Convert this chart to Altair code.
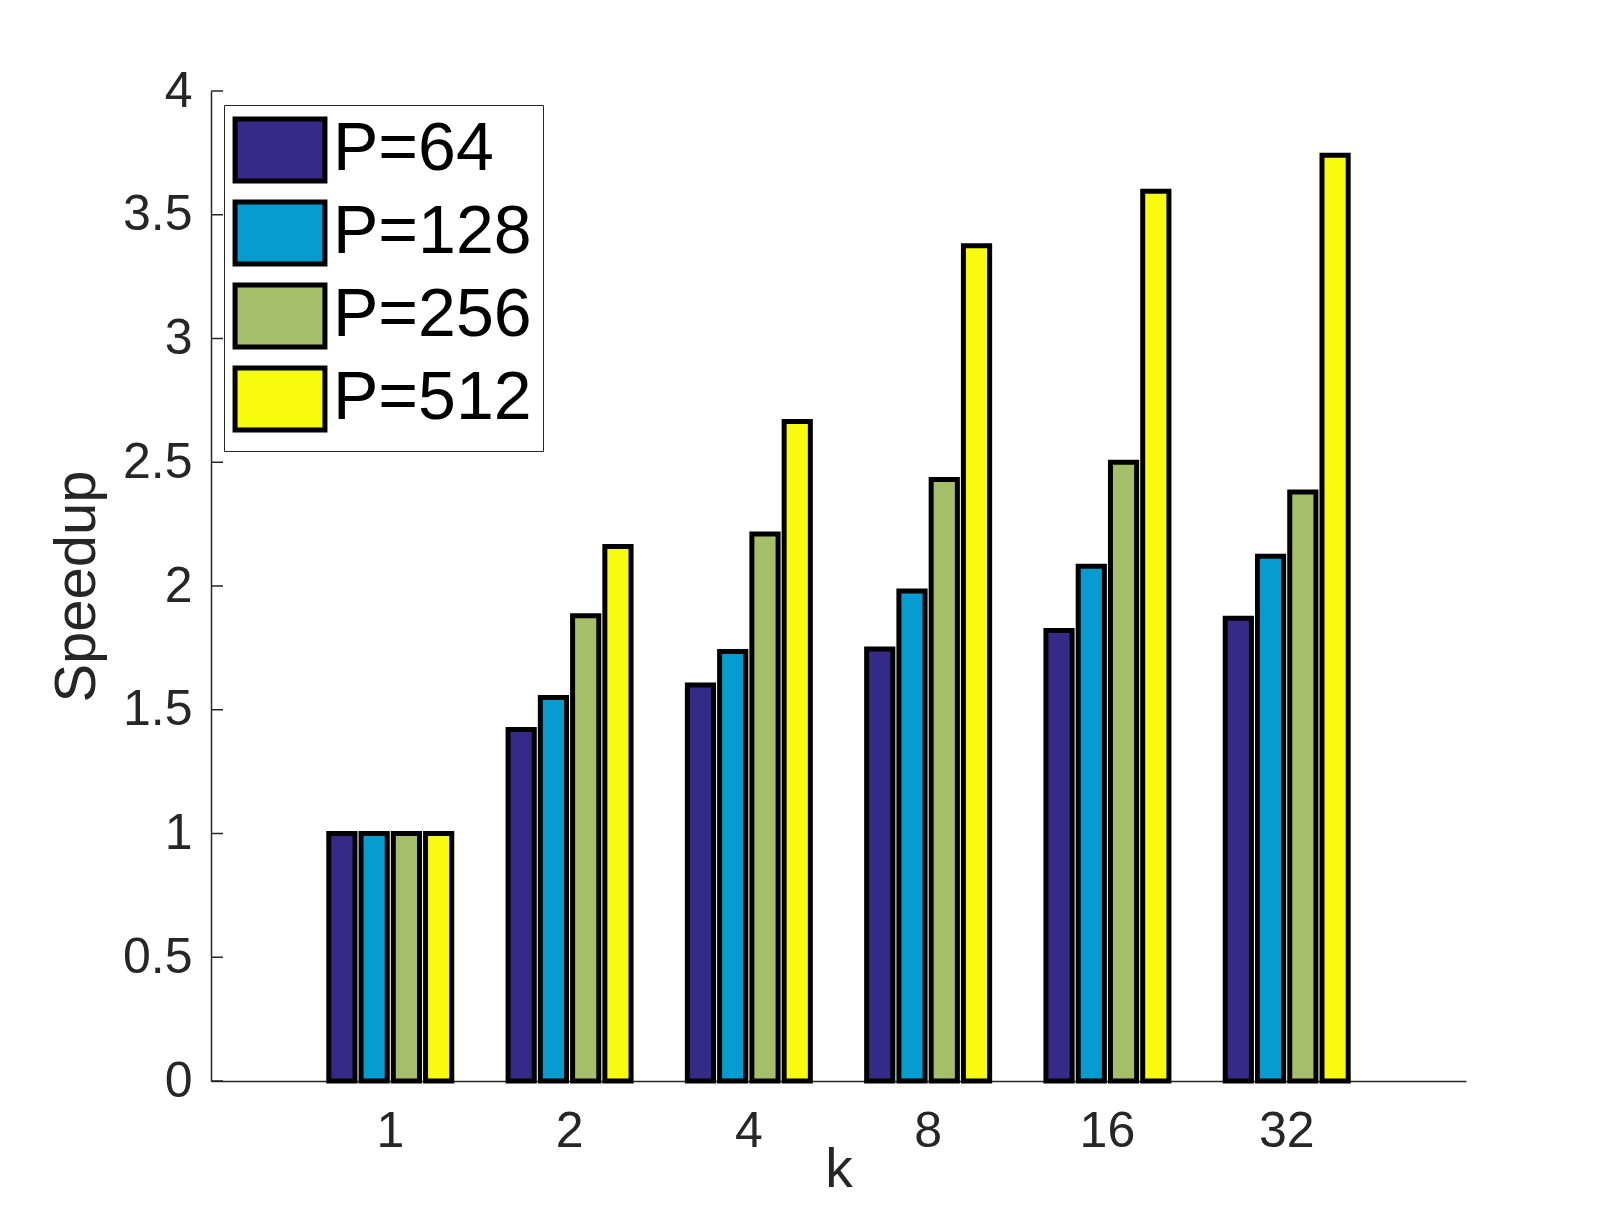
import altair as alt
import pandas as pd

# ---- data ----
k_labels = ["1", "2", "4", "8", "16", "32"]
series = ["P=64", "P=128", "P=256", "P=512"]
p64 = [1.00, 1.42, 1.60, 1.745, 1.82, 1.87]
p128 = [1.00, 1.55, 1.735, 1.98, 2.08, 2.12]
p256 = [1.00, 1.88, 2.21, 2.43, 2.50, 2.38]
p512 = [1.00, 2.16, 2.665, 3.375, 3.595, 3.74]
colors = ["#352A87", "#079CCF", "#A5BE6A", "#F9FB0E"]
y_ticks = [0, 0.5, 1, 1.5, 2, 2.5, 3, 3.5, 4]

rows = []
for name, vals in zip(series, [p64, p128, p256, p512]):
    for k, v in zip(k_labels, vals):
        rows.append({"k": k, "P": name, "value": v})
df = pd.DataFrame(rows)
ticks_df = pd.DataFrame({"value": y_ticks})

FONT = "Liberation Sans"
AX = "#262626"

yscale = alt.Scale(domain=[0, 4], nice=False, zero=True)
yaxis = alt.Axis(values=y_ticks, format="~g", grid=False, ticks=False,
                 labelPadding=19, labelFontSize=50, labelFont=FONT,
                 labelColor=AX, domainColor=AX, domainWidth=1.5,
                 titleFontSize=58, titleFont=FONT, titleColor=AX,
                 titleFontWeight="normal", titleX=-117, titleY=495,
                 titleBaseline="alphabetic", titleAngle=270)

bars = alt.Chart(df).mark_bar(stroke="black", strokeWidth=5, opacity=1).encode(
    x=alt.X("k:N", sort=k_labels, title="k",
            scale=alt.Scale(paddingInner=0.314, paddingOuter=0.657),
            axis=alt.Axis(labelAngle=0, ticks=False, grid=False,
                          labelPadding=25, labelFontSize=50, labelFont=FONT,
                          labelColor=AX, domainColor=AX, domainWidth=1.5,
                          titleFontSize=55, titleFont=FONT, titleColor=AX,
                          titleFontWeight="normal", titleY=105,
                          titleBaseline="alphabetic")),
    xOffset=alt.XOffset("P:N", sort=series,
                        scale=alt.Scale(paddingInner=0.1875, paddingOuter=0)),
    y=alt.Y("value:Q", title="Speedup", scale=yscale, axis=yaxis),
    fill=alt.Fill("P:N", sort=series,
                  scale=alt.Scale(domain=series, range=colors),
                  legend=alt.Legend(orient="none", legendX=13, legendY=14,
                                    title=None,
                                    symbolType="M-1.45,-1H1.45V1H-1.45Z",
                                    symbolSize=3844, symbolStrokeWidth=5,
                                    symbolStrokeColor="black", symbolOpacity=1,
                                    symbolOffset=11, labelOffset=19,
                                    labelLimit=500,
                                    labelFontSize=68, labelFont=FONT,
                                    labelColor="black", padding=11,
                                    rowPadding=1, strokeColor=AX,
                                    fillColor="white")),
)

tick_marks = alt.Chart(ticks_df).mark_rule(color=AX, strokeWidth=1.5).encode(
    y=alt.Y("value:Q", title="Speedup", scale=yscale, axis=yaxis),
    x=alt.value(0),
    x2=alt.value(12),
)

chart = alt.layer(bars, tick_marks).properties(
    width=1255,
    height=990,
    autosize=alt.AutoSizeParams(type="none"),
    padding={"left": 203, "top": 83, "right": 146, "bottom": 118},
    background="white",
).configure_view(stroke=None)

chart.save("out.html", embed_options={"renderer": "svg", "actions": False})
